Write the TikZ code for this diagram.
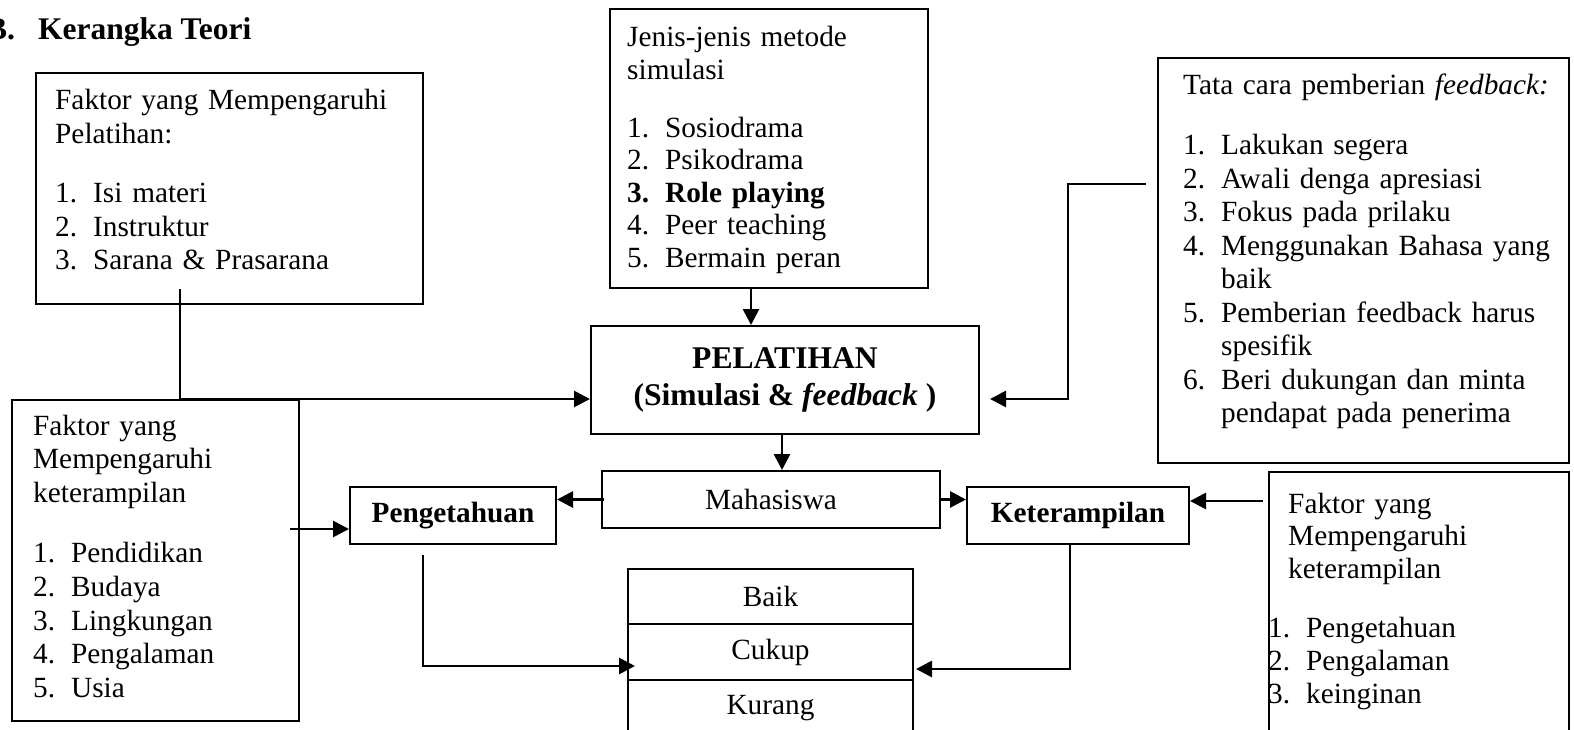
\documentclass[tikz,border=0pt]{standalone}
\usepackage{fontspec}
\setmainfont{Liberation Serif}
\usetikzlibrary{arrows.meta}
\newcommand{\itm}[2]{\makebox[38pt][l]{#1}#2}

\begin{document}
\begin{tikzpicture}[x=1pt,y=-1pt,
		box/.style={draw, line width=2pt, anchor=north west, inner sep=0pt, font=\fontsize{29.3}{34}\selectfont},
		list/.style={anchor=base west, inner sep=0pt, text width=420pt, align=left, font=\fontsize{29.3}{#1}\selectfont},
		arr/.style={line width=2.8pt, -{Triangle[length=16pt,width=16pt]}}]
		\useasboundingbox (0,0) rectangle (1574,730);
		
		\node [anchor=base west, inner sep=0pt, font=\fontsize{31.5}{36}\selectfont\bfseries] (title) at (-14,40) {B.\hspace{23pt}Kerangka Teori};
		
		\node [box, minimum width=387pt, minimum height=231pt] (fpel) at (35,72) {};
		\node [list=33.7] (fpelt) at (55,110) {Faktor yang Mempengaruhi\\ Pelatihan:\\[25pt] \itm{1.}{Isi materi}\\ \itm{2.}{Instruktur}\\ \itm{3.}{Sarana \& Prasarana}};
		
		\node [box, minimum width=318pt, minimum height=279pt] (jenis) at (609,8) {};
		\node [list=32.5] (jenist) at (627,47) {Jenis-jenis metode\\ simulasi\\[25.5pt] \itm{1.}{Sosiodrama}\\ \itm{2.}{Psikodrama}\\ \textbf{\itm{3.}{Role playing}}\\ \itm{4.}{Peer teaching}\\ \itm{5.}{Bermain peran}};
		
		\node [box, minimum width=411pt, minimum height=405pt] (tata) at (1157,57) {};
		\node [list=33.5] (tatat) at (1183,95) {Tata cara pemberian \textit{feedback:}\\[26.5pt] \itm{1.}{Lakukan segera}\\ \itm{2.}{Awali denga apresiasi}\\ \itm{3.}{Fokus pada prilaku}\\ \itm{4.}{Menggunakan Bahasa yang}\\ \itm{}{baik}\\ \itm{5.}{Pemberian feedback harus}\\ \itm{}{spesifik}\\ \itm{6.}{Beri dukungan dan minta}\\ \itm{}{pendapat pada penerima}};
		
		\node [box, minimum width=287pt, minimum height=321pt] (fk1) at (11,399) {};
		\node [list=33.8] (fk1t) at (33,435) {Faktor yang\\ Mempengaruhi\\ keterampilan\\[26pt] \itm{1.}{Pendidikan}\\ \itm{2.}{Budaya}\\ \itm{3.}{Lingkungan}\\ \itm{4.}{Pengalaman}\\ \itm{5.}{Usia}};
		
		\node [box, minimum width=300pt, minimum height=270pt] (fk2) at (1268,471) {};
		\node [list=32.8] (fk2t) at (1268,513) {\hspace*{20pt}Faktor yang\\ \hspace*{20pt}Mempengaruhi\\ \hspace*{20pt}keterampilan\\[26pt] \itm{1.}{Pengetahuan}\\ \itm{2.}{Pengalaman}\\ \itm{3.}{keinginan}};
		
		\node [box, minimum width=388pt, minimum height=108pt, align=center, font=\fontsize{31.6}{37}\selectfont\bfseries] (pel) at (590,325) {PELATIHAN\\ (Simulasi \& \textit{feedback} )};
		\node [box, minimum width=338pt, minimum height=57pt] (mhs) at (601,470) {Mahasiswa};
		\node [box, minimum width=206pt, minimum height=57pt, font=\fontsize{29.3}{34}\selectfont\bfseries] (peng) at (349,486) {Pengetahuan};
		\node [box, minimum width=222pt, minimum height=57pt, font=\fontsize{29.3}{34}\selectfont\bfseries] (ket) at (966,486) {Keterampilan};
		
		\node [box, minimum width=285pt, minimum height=55pt] (baik) at (627,568) {Baik};
		\node [box, minimum width=285pt, minimum height=56pt] (cukup) at (627,623) {Cukup};
		\node [box, minimum width=285pt, minimum height=56pt] (kurang) at (627,679) {Kurang};
		
		\coordinate (pell) at ([yshift=-19pt]pel.west);
		\coordinate (pelr) at ([xshift=10pt,yshift=-19pt]pel.east);
		\coordinate (jout) at ([xshift=-18pt]jenis.south);
		\coordinate (tout) at ([xshift=-11pt,yshift=76.5pt]tata.west);
		\coordinate (pout) at ([xshift=-3pt]pel.south);
		\coordinate (pengin) at ([yshift=-13.5pt]peng.west);
		\coordinate (f1out) at ([xshift=-10pt]fk1.east);
		\coordinate (ketin) at ([yshift=14.5pt]ket.east);
		\coordinate (f2out) at ([xshift=-5pt]fk2.west);
		\coordinate (pgout) at ([xshift=-30pt,yshift=-10pt]peng.south);
		\coordinate (cukl) at ([xshift=8pt,yshift=-14pt]cukup.west);
		\coordinate (ktout) at ([xshift=-8pt]ket.south);
		\coordinate (cukr) at ([xshift=2pt,yshift=-17pt]cukup.east);
		
		\draw [arr] ([xshift=-49.5pt,yshift=16pt]fpel.south) |- (pell);
		\draw [arr] (jout) -- (jout |- pel.north);
		\draw [arr] (tout) -- ++(-78,0) |- (pelr);
		\draw [arr] (pout) -- (pout |- mhs.north);
		\draw [arr] ([xshift=3pt]mhs.west) -- (mhs.west -| peng.east);
		\draw [arr] (mhs.east) -- (mhs.east -| ket.west);
		\draw [arr] (f1out |- pengin) -- (pengin);
		\draw [arr] (f2out |- ketin) -- (ketin);
		\draw [arr] (pgout) |- (cukl);
		\draw [arr] (ktout) |- (cukr);
\end{tikzpicture}
\end{document}
